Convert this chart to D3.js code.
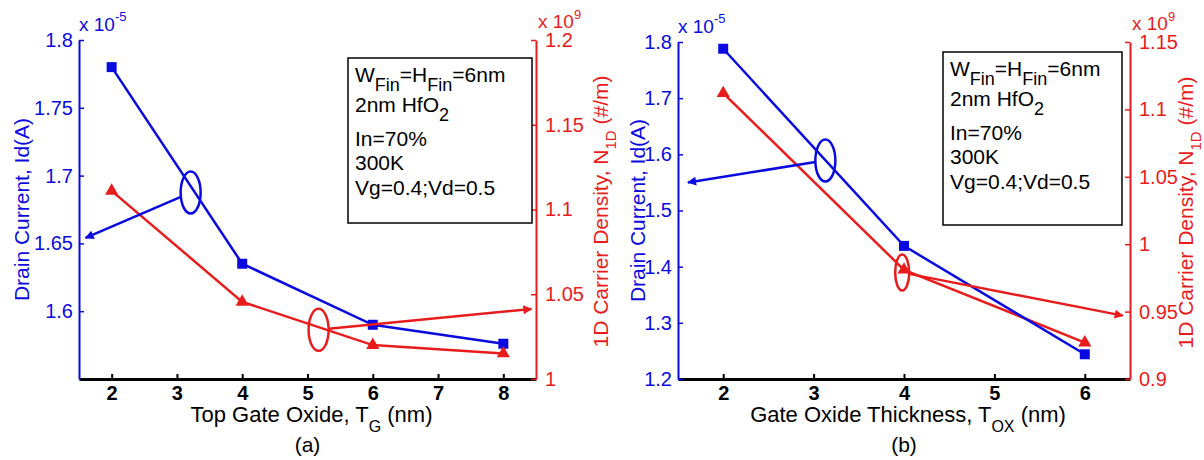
<!DOCTYPE html>
<html>
<head>
<meta charset="utf-8">
<script src="https://cdn.jsdelivr.net/npm/d3@7"></script>
<style>
  body { margin: 0; background: #fff; }
  text { font-family: Arial, "Liberation Sans", sans-serif; }
</style>
</head>
<body>
<div id="chart"></div>
<script>
// panel (a): top gate oxide sweep
var gateOxideA = [2, 4, 6, 8];
var drainCurrentA = [1.780, 1.635, 1.590, 1.576];     // x 1e-5 A
var carrierDensityA = [1.111, 1.0455, 1.020, 1.015];  // x 1e9 #/m
var xTicksA = [2, 3, 4, 5, 6, 7, 8];
var leftTicksA = [1.6, 1.65, 1.7, 1.75, 1.8];
var rightTicksA = [1, 1.05, 1.1, 1.15, 1.2];

// panel (b): gate oxide thickness sweep
var gateOxideB = [2, 4, 6];
var drainCurrentB = [1.788, 1.437, 1.244];
var carrierDensityB = [1.112, 0.981, 0.927];
var xTicksB = [2, 3, 4, 5, 6];
var leftTicksB = [1.2, 1.3, 1.4, 1.5, 1.6, 1.7, 1.8];
var rightTicksB = [0.9, 0.95, 1, 1.05, 1.1, 1.15];

// ellipse centre and arrow tip, in data units: [ex, ey, tipX, tipY]
var calloutA = { left: [3.21, 1.6875, 1.60, 1.654], right: [5.17, 1.029, 8.43, 1.0413] };
var calloutB = { left: [3.13, 1.589, 1.61, 1.550], right: [3.98, 0.979, 6.42, 0.947] };

// text box lines, segments as [text, isSubscript]
var boxLines = [
  [["W", 0], ["Fin", 1], ["=H", 0], ["Fin", 1], ["=6nm", 0]],
  [["2nm HfO", 0], ["2", 1]],
  [["In=70%", 0]],
  [["300K", 0]],
  [["Vg=0.4;Vd=0.5", 0]]
];

var BLUE = "#0a0ae0";
var RED = "#e81c1c";

var svg = d3.select("#chart")
  .append("svg")
  .attr("width", 1204)
  .attr("height", 460);

//arrowheads
var defs = svg.append("defs");
[["blue", BLUE], ["red", RED]].forEach(function(m) {
  defs.append("marker")
    .attr("id", "head-" + m[0])
    .attr("viewBox", "0 0 10 10")
    .attr("refX", 9)
    .attr("refY", 5)
    .attr("markerUnits", "userSpaceOnUse")
    .attr("markerWidth", 12)
    .attr("markerHeight", 9)
    .attr("orient", "auto")
    .append("path")
    .attr("d", "M0,0 L10,5 L0,10 z")
    .attr("fill", m[1]);
});

function addSub(sel, segs, size, subSize, shift) {
  var down = false;
  segs.forEach(function(s) {
    var t = sel.append("tspan").text(s[0]);
    if (s[1] && !down) { t.attr("dy", shift).attr("font-size", subSize); down = true; }
    else if (s[1]) { t.attr("font-size", subSize); }
    else if (down) { t.attr("dy", -shift).attr("font-size", size); down = false; }
  });
}

function drawPanel(cfg) {
  var g = svg.append("g");
  var x = d3.scaleLinear().domain(cfg.xDomain).range([cfg.left, cfg.right]);
  var yL = d3.scaleLinear().domain(cfg.leftDomain).range([cfg.bottom, cfg.top]);
  var yR = d3.scaleLinear().domain(cfg.rightDomain).range([cfg.bottom, cfg.top]);
  var plain = function(d) { return String(d); };

  //axes
  var ax = g.append("g")
    .attr("transform", "translate(0," + cfg.bottom + ")")
    .call(d3.axisBottom(x).tickValues(cfg.xTicks).tickSizeInner(-5).tickSizeOuter(0).tickPadding(7)
      .tickFormat(plain));
  ax.select(".domain").attr("stroke", "#000").attr("stroke-width", 3);
  ax.selectAll(".tick line").attr("stroke", "#000").attr("stroke-width", 2);
  ax.selectAll("text").attr("font-size", 20).attr("font-weight", "bold").attr("fill", "#000")
    .style("font-family", "Arial, 'Liberation Sans', sans-serif");

  var al = g.append("g")
    .attr("transform", "translate(" + cfg.left + ",0)")
    .call(d3.axisLeft(yL).tickValues(cfg.leftTicks).tickSizeInner(-5).tickSizeOuter(0).tickPadding(6)
      .tickFormat(plain));
  al.select(".domain").attr("stroke", BLUE).attr("stroke-width", 2);
  al.selectAll(".tick line").attr("stroke", BLUE).attr("stroke-width", 1.5);
  al.selectAll("text").attr("font-size", 20).attr("fill", BLUE)
    .style("font-family", "Arial, 'Liberation Sans', sans-serif");

  var ar = g.append("g")
    .attr("transform", "translate(" + cfg.right + ",0)")
    .call(d3.axisRight(yR).tickValues(cfg.rightTicks).tickSizeInner(-5).tickSizeOuter(0).tickPadding(9)
      .tickFormat(plain));
  ar.select(".domain").attr("stroke", RED).attr("stroke-width", 2);
  ar.selectAll(".tick line").attr("stroke", RED).attr("stroke-width", 1.5);
  ar.selectAll("text").attr("font-size", 20).attr("fill", RED)
    .style("font-family", "Arial, 'Liberation Sans', sans-serif");

  //exponent labels
  var e1 = g.append("text").attr("x", cfg.left).attr("y", cfg.top - 9)
    .attr("font-size", 19).attr("fill", BLUE).text("x 10");
  e1.append("tspan").attr("dy", -10).attr("font-size", 13).text("-5");
  var e2 = g.append("text").attr("x", cfg.right + 2).attr("y", cfg.top - 12)
    .attr("font-size", 19).attr("fill", RED).text("x 10");
  e2.append("tspan").attr("dy", -9).attr("font-size", 13).text("9");

  //series lines
  var lineL = d3.line().x(function(d) { return x(d[0]); }).y(function(d) { return yL(d[1]); });
  var lineR = d3.line().x(function(d) { return x(d[0]); }).y(function(d) { return yR(d[1]); });
  var ptsL = d3.zip(cfg.xs, cfg.drain);
  var ptsR = d3.zip(cfg.xs, cfg.carrier);

  g.append("path").datum(ptsR).attr("d", lineR)
    .attr("fill", "none").attr("stroke", RED).attr("stroke-width", 2.5);
  g.append("path").datum(ptsL).attr("d", lineL)
    .attr("fill", "none").attr("stroke", BLUE).attr("stroke-width", 2.5);

  g.selectAll(".sq").data(ptsL).enter().append("rect")
    .attr("x", function(d) { return x(d[0]) - 5; })
    .attr("y", function(d) { return yL(d[1]) - 5; })
    .attr("width", 10).attr("height", 10)
    .attr("fill", BLUE);
  g.selectAll(".tri").data(ptsR).enter().append("path")
    .attr("transform", function(d) { return "translate(" + x(d[0]) + "," + yR(d[1]) + ")"; })
    .attr("d", d3.symbol().type(d3.symbolTriangle).size(75))
    .attr("fill", RED);

  //callouts: ellipse + arrow pointing at its axis
  function callout(c, yScale, color, name, rx, ry) {
    var cx = x(c[0]), cy = yScale(c[1]);
    var tx = x(c[2]), ty = yScale(c[3]);
    var dx = tx - cx, dy = ty - cy;
    var s = 1 / Math.sqrt((dx / rx) * (dx / rx) + (dy / ry) * (dy / ry));
    g.append("ellipse").attr("cx", cx).attr("cy", cy).attr("rx", rx).attr("ry", ry)
      .attr("fill", "none").attr("stroke", color).attr("stroke-width", 2.5);
    g.append("line")
      .attr("x1", cx + dx * s).attr("y1", cy + dy * s)
      .attr("x2", tx).attr("y2", ty)
      .attr("stroke", color).attr("stroke-width", 2.5)
      .attr("marker-end", "url(#head-" + name + ")");
  }
  callout(cfg.callout.left, yL, BLUE, "blue", 10, 21);
  callout(cfg.callout.right, yR, RED, "red", cfg.redRx, cfg.redRy);

  //text box
  g.append("rect").attr("x", cfg.box[0]).attr("y", cfg.box[1])
    .attr("width", cfg.box[2]).attr("height", cfg.box[3])
    .attr("fill", "#fff").attr("stroke", "#000").attr("stroke-width", 1.5);
  var offs = [24, 54, 88, 112, 137];
  boxLines.forEach(function(segs, i) {
    var t = g.append("text").attr("x", cfg.box[0] + 7).attr("y", cfg.box[1] + offs[i])
      .attr("font-size", 21).attr("fill", "#000");
    addSub(t, segs, 21, 18, 9);
  });

  //axis titles
  var mid = (cfg.top + cfg.bottom) / 2;
  g.append("text")
    .attr("transform", "translate(" + cfg.leftTitleX + "," + mid + ") rotate(-90)")
    .attr("text-anchor", "middle").attr("font-size", 21).attr("fill", BLUE)
    .text("Drain Current, Id(A)");
  var rt = g.append("text")
    .attr("transform", "translate(" + cfg.rightTitleX + "," + (mid + 2) + ") rotate(-90)")
    .attr("text-anchor", "middle").attr("font-size", 21).attr("fill", RED);
  addSub(rt, [["1D Carrier Density, N", 0], ["1D", 1], [" (#/m)", 0]], 21, 15, 8);

  var xt = g.append("text")
    .attr("x", (cfg.left + cfg.right) / 2 + 4).attr("y", cfg.bottom + 43)
    .attr("text-anchor", "middle").attr("font-size", 22).attr("fill", "#000");
  addSub(xt, cfg.xTitle, 22, 16, 10);

  g.append("text")
    .attr("x", (cfg.left + cfg.right) / 2).attr("y", cfg.bottom + 73)
    .attr("text-anchor", "middle").attr("font-size", 21).attr("fill", "#000")
    .text(cfg.tag);
}

drawPanel({
  left: 79, right: 536, top: 40, bottom: 379,
  xDomain: [1.5, 8.5], leftDomain: [1.55, 1.8], rightDomain: [1, 1.2],
  xTicks: xTicksA, leftTicks: leftTicksA, rightTicks: rightTicksA,
  xs: gateOxideA, drain: drainCurrentA, carrier: carrierDensityA,
  callout: calloutA, redRx: 10, redRy: 21,
  box: [348, 58, 184, 165],
  leftTitleX: 29, rightTitleX: 608,
  xTitle: [["Top Gate Oxide, T", 0], ["G", 1], [" (nm)", 0]],
  tag: "(a)"
});

drawPanel({
  left: 678, right: 1130, top: 42, bottom: 379,
  xDomain: [1.5, 6.5], leftDomain: [1.2, 1.8], rightDomain: [0.9, 1.15],
  xTicks: xTicksB, leftTicks: leftTicksB, rightTicks: rightTicksB,
  xs: gateOxideB, drain: drainCurrentB, carrier: carrierDensityB,
  callout: calloutB, redRx: 7, redRy: 18,
  box: [943, 52, 179, 173],
  leftTitleX: 645, rightTitleX: 1193,
  xTitle: [["Gate Oxide Thickness, T", 0], ["OX", 1], [" (nm)", 0]],
  tag: "(b)"
});
</script>
</body>
</html>
